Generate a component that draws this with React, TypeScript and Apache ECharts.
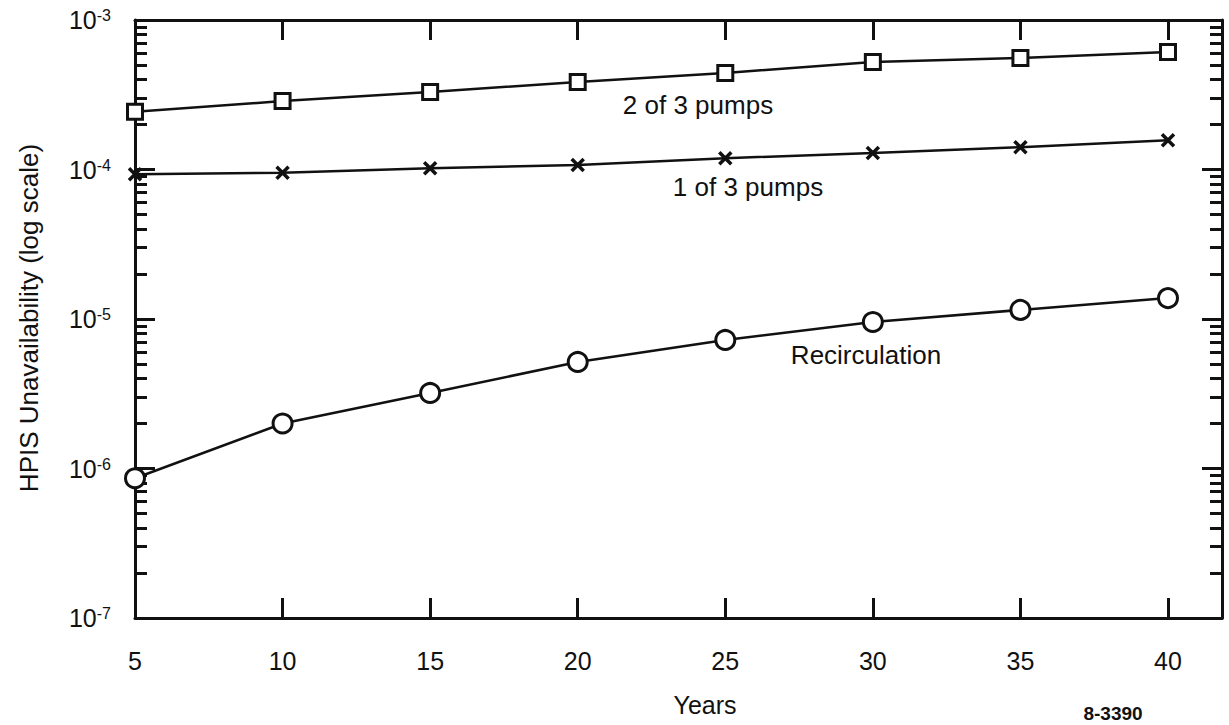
import React, { useEffect, useRef } from 'react';
import * as echarts from 'echarts';

const years = [5, 10, 15, 20, 25, 30, 35, 40];
const twoOfThreePumps = [2.43e-4, 2.87e-4, 3.3e-4, 3.85e-4, 4.42e-4, 5.24e-4, 5.57e-4, 6.1e-4];
const oneOfThreePumps = [9.3e-5, 9.5e-5, 1.02e-4, 1.07e-4, 1.19e-4, 1.29e-4, 1.41e-4, 1.57e-4];
const recirculation = [8.6e-7, 2.0e-6, 3.2e-6, 5.16e-6, 7.24e-6, 9.55e-6, 1.15e-5, 1.38e-5];
const yearTicks = [5, 10, 15, 20, 25, 30, 35, 40];
const decadeTicks = [1e-7, 1e-6, 1e-5, 1e-4, 1e-3];
const minorMultipliers = [2, 3, 4, 5, 6, 7, 8, 9];
const minorTicks: number[] = [];
decadeTicks.slice(0, 4).forEach((d) => minorMultipliers.forEach((m) => minorTicks.push(m * d)));

const FONT = '"Liberation Sans", Arial, Helvetica, sans-serif';
const INK = '#111';

const pairs = (vals: number[]) => years.map((y, i) => [y, vals[i]]);

export default function App() {
  const ref = useRef<HTMLDivElement>(null);
  useEffect(() => {
    if (!ref.current) return;
    const chart = echarts.init(ref.current, null, { renderer: 'svg' });
    const yBase = {
      type: 'log',
      logBase: 10,
      min: 1e-7,
      max: 1e-3,
      splitLine: { show: false },
    };
    const xBase = {
      type: 'value',
      min: 5,
      max: 41.83,
      splitLine: { show: false },
    };
    const lineStyle = { color: INK, width: 3 };
    chart.setOption({
      animation: false,
      backgroundColor: '#fff',
      grid: { left: 135, right: 7, top: 20, bottom: 107, containLabel: false },
      xAxis: [
        {
          ...xBase,
          position: 'bottom',
          axisLine: { show: true, lineStyle },
          axisTick: { show: true, inside: true, length: 20, lineStyle, customValues: yearTicks.slice(1) },
          axisLabel: {
            show: true,
            customValues: yearTicks,
            margin: 30,
            fontSize: 25,
            fontFamily: FONT,
            color: INK,
          },
        },
        {
          ...xBase,
          position: 'top',
          axisLine: { show: true, lineStyle },
          axisTick: { show: true, inside: true, length: 20, lineStyle, customValues: yearTicks.slice(1) },
          axisLabel: { show: false },
        },
      ],
      yAxis: [
        {
          ...yBase,
          position: 'left',
          axisLine: { show: true, lineStyle },
          axisTick: { show: true, inside: true, length: 20, lineStyle, customValues: decadeTicks },
          axisLabel: {
            show: true,
            customValues: decadeTicks,
            margin: 24,
            formatter: (v: number) => '{b|10}{s|' + Math.round(Math.log10(v)) + '}',
            rich: {
              b: { fontSize: 25, fontFamily: FONT, color: INK },
              s: { fontSize: 16, fontFamily: FONT, color: INK, verticalAlign: 'top' },
            },
          },
        },
        {
          ...yBase,
          position: 'left',
          axisLine: { show: false },
          axisTick: { show: true, inside: true, length: 12, lineStyle, customValues: minorTicks },
          axisLabel: { show: false },
        },
        {
          ...yBase,
          position: 'right',
          axisLine: { show: true, lineStyle },
          axisTick: { show: true, inside: true, length: 20, lineStyle, customValues: decadeTicks },
          axisLabel: { show: false },
        },
        {
          ...yBase,
          position: 'right',
          axisLine: { show: false },
          axisTick: { show: true, inside: true, length: 12, lineStyle, customValues: minorTicks },
          axisLabel: { show: false },
        },
      ],
      series: [
        {
          name: '2 of 3 pumps',
          type: 'line',
          data: pairs(twoOfThreePumps),
          symbol: 'rect',
          symbolSize: 15,
          showAllSymbol: true,
          lineStyle: { color: INK, width: 2.5 },
          itemStyle: { color: '#fff', borderColor: INK, borderWidth: 3 },
          z: 3,
        },
        {
          name: '1 of 3 pumps',
          type: 'line',
          data: pairs(oneOfThreePumps),
          symbol: 'path://M0,0L10,10M10,0L0,10',
          symbolSize: 12,
          showAllSymbol: true,
          lineStyle: { color: INK, width: 2.5 },
          itemStyle: { color: INK, borderColor: INK, borderWidth: 3.5 },
          z: 3,
        },
        {
          name: 'Recirculation',
          type: 'line',
          data: pairs(recirculation),
          symbol: 'circle',
          symbolSize: 19,
          showAllSymbol: true,
          lineStyle: { color: INK, width: 2.5 },
          itemStyle: { color: '#fff', borderColor: INK, borderWidth: 3 },
          z: 3,
        },
      ],
      graphic: [
        {
          type: 'text',
          x: 698,
          y: 105,
          style: { text: '2 of 3 pumps', font: '26px ' + FONT, fill: INK, align: 'center', verticalAlign: 'middle' },
        },
        {
          type: 'text',
          x: 748,
          y: 187,
          style: { text: '1 of 3 pumps', font: '26px ' + FONT, fill: INK, align: 'center', verticalAlign: 'middle' },
        },
        {
          type: 'text',
          x: 866,
          y: 355,
          style: { text: 'Recirculation', font: '26px ' + FONT, fill: INK, align: 'center', verticalAlign: 'middle' },
        },
        {
          type: 'text',
          x: 705,
          y: 705,
          style: { text: 'Years', font: '25px ' + FONT, fill: INK, align: 'center', verticalAlign: 'middle' },
        },
        {
          type: 'text',
          x: 1113,
          y: 713,
          style: { text: '8-3390', font: 'bold 19px ' + FONT, fill: INK, align: 'center', verticalAlign: 'middle' },
        },
        {
          type: 'text',
          x: 29,
          y: 318,
          rotation: Math.PI / 2,
          style: {
            text: 'HPIS Unavailability (log scale)',
            font: '26px ' + FONT,
            fill: INK,
            align: 'center',
            verticalAlign: 'middle',
          },
        },
      ],
    });
    return () => chart.dispose();
  }, []);
  return (
    <div
      ref={ref}
      style={{ position: 'absolute', left: 0, top: 0, width: 1229, height: 725, background: '#fff' }}
    />
  );
}
